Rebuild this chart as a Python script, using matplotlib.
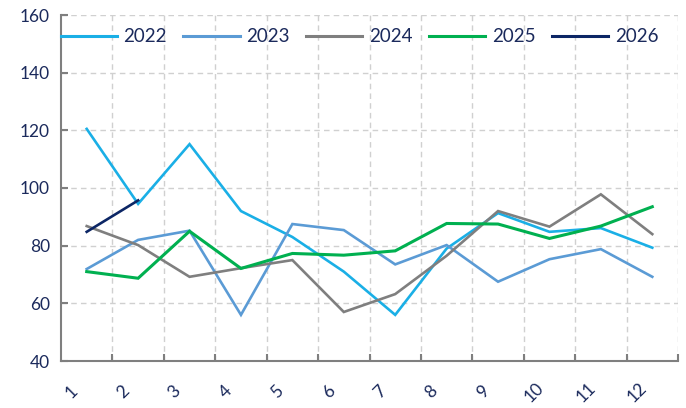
import matplotlib
matplotlib.use("Agg")
import matplotlib.pyplot as plt
import matplotlib.transforms as mtransforms
import numpy as np

months = ["1", "2", "3", "4", "5", "6", "7", "8", "9", "10", "11", "12"]
s2022 = [120.5, 94.5, 115.2, 92.0, 83.0, 71.0, 56.0, 79.0, 91.3, 84.8, 86.1, 79.3]
s2023 = [71.9, 82.0, 85.2, 56.0, 87.5, 85.4, 73.5, 80.2, 67.5, 75.3, 78.8, 69.2]
s2024 = [86.8, 80.2, 69.2, 72.2, 75.0, 57.0, 63.2, 76.5, 92.0, 86.6, 97.8, 84.0]
s2025 = [71.0, 68.7, 85.0, 72.1, 77.3, 76.7, 78.2, 87.7, 87.5, 82.5, 86.8, 93.5]
s2026 = [84.8, 95.7]
series_names = ["2022", "2023", "2024", "2025", "2026"]
colors = ["#1aafe6", "#5b9bd5", "#7f7f7f", "#00b050", "#0c2665"]
widths = [1.9, 1.9, 1.9, 2.2, 1.9]

plt.rcParams['font.family'] = ['Lato', 'DejaVu Sans']
navy = "#1b2a5c"

fig = plt.figure(figsize=(6.86, 4.08), dpi=100)
ax = fig.add_axes([61/686, 1 - 361/408, (678-61)/686, (361-15)/408])

x = np.arange(1, 13)
for name, data, c, lw in zip(series_names, [s2022, s2023, s2024, s2025, s2026], colors, widths):
    ax.plot(x[:len(data)], data, color=c, lw=lw, label=name, solid_joinstyle='miter')

ax.set_xlim(0.5, 12.5)
ax.set_ylim(40, 160)
ax.set_yticks(np.arange(40, 161, 20))
ax.set_xticks(x)
ax.set_xticklabels([])
ax.tick_params(axis='x', which='major', length=0)

# month labels, rotated, placed below each category
base = mtransforms.blended_transform_factory(ax.transData, ax.transAxes)
offset = mtransforms.ScaledTranslation(-15/100, -31/100, fig.dpi_scale_trans)
for xi, lab in zip(x, months):
    ax.text(xi, 0, lab, transform=base + offset, rotation=45, ha='center', va='center',
            color=navy, fontsize=12.5, clip_on=False)

ax.set_xticks(np.arange(1.5, 12.6, 1), minor=True)
ax.tick_params(axis='x', which='minor', length=5, direction='in', color='#7f7f7f', width=1.5)
ax.tick_params(axis='y', length=5, direction='in', color='#7f7f7f', width=1.5, labelcolor=navy, labelsize=12.5, pad=8)

ax.grid(False)
ax.grid(axis='x', which='minor', linestyle=(0, (4, 3)), color='#d0d0d0', lw=1)
ax.grid(axis='y', which='major', linestyle=(0, (4, 3)), color='#d0d0d0', lw=1)

for s in ['top', 'right']:
    ax.spines[s].set_visible(False)
for s in ['left', 'bottom']:
    ax.spines[s].set_color('#7f7f7f')
    ax.spines[s].set_linewidth(1.5)

leg = ax.legend(ncol=5, loc='upper left', bbox_to_anchor=(-0.022, 1.0), frameon=False,
                fontsize=13.5, handlelength=3.0, handletextpad=0.35, columnspacing=0.88,
                borderaxespad=0.3)
for t in leg.get_texts():
    t.set_color(navy)
for h in leg.get_lines():
    h.set_linewidth(2.2)

fig.savefig("out.png", dpi=100)
